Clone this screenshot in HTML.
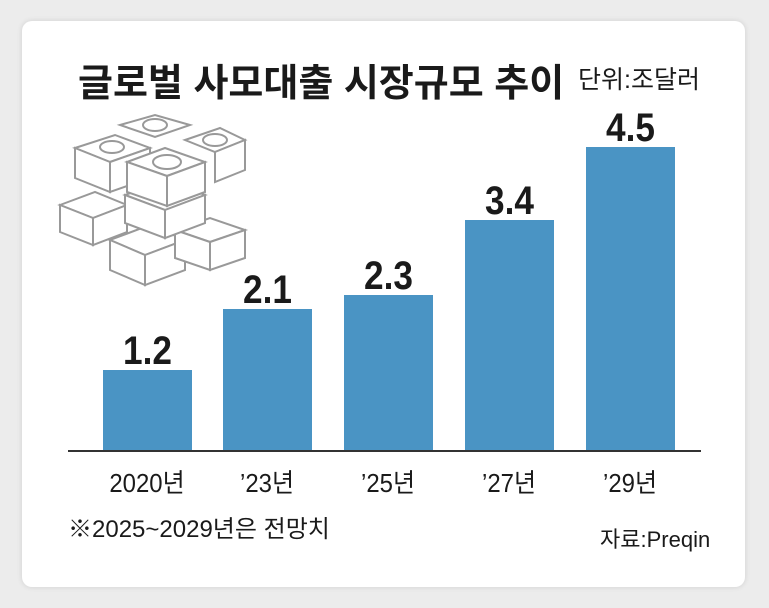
<!DOCTYPE html>
<html><head><meta charset="utf-8"><style>
body{margin:0;width:769px;height:608px;background:#ececec;position:relative;overflow:hidden;font-family:"Liberation Sans","Noto Sans CJK KR",sans-serif;}
.card{position:absolute;left:22px;top:21px;width:723px;height:566px;background:#fff;border-radius:10px;box-shadow:0 0 6px rgba(0,0,0,.12);}
.t{position:absolute;white-space:nowrap;color:#1a1a1a;}
.bar{position:absolute;background:#4a94c4;width:89px;}
.v{position:absolute;width:89px;text-align:center;font-size:40px;line-height:40px;font-weight:bold;color:#1a1a1a;transform:scaleX(.88);}
.x{position:absolute;width:120px;text-align:center;font-size:26px;color:#1a1a1a;transform:scaleX(.92);}
</style></head><body>
<div class="card"></div>
<div class="t" style="left:78px;top:52px;font-size:38px;font-weight:bold;">글로벌 사모대출 시장규모 추이</div>
<div class="t" style="left:578px;top:60px;font-size:25px;">단위:조달러</div>
<svg style="position:absolute;left:55px;top:110px" width="200" height="190" fill="#fff" stroke="#999" stroke-width="2">
<g><polygon points="5,95 40,82 72,95 38,108"/><polygon points="5,95 38,108 38,135 5,122"/><polygon points="38,108 72,95 72,122 38,135"/></g>
<g><polygon points="55,130 95,115 130,130 90,145"/><polygon points="55,130 90,145 90,175 55,160"/><polygon points="90,145 130,130 130,160 90,175"/></g>
<g><polygon points="120,120 155,108 190,120 155,132"/><polygon points="120,120 155,132 155,160 120,148"/><polygon points="155,132 190,120 190,148 155,160"/></g>
<g><polygon points="70,85 110,70 150,85 110,100"/><polygon points="70,85 110,100 110,128 70,113"/><polygon points="110,100 150,85 150,113 110,128"/></g>
<g><polygon points="20,38 60,25 95,38 55,52"/><polygon points="20,38 55,52 55,82 20,68"/><polygon points="55,52 95,38 95,68 55,82"/><ellipse cx="57" cy="37" rx="12" ry="6"/></g>
<g><polygon points="65,15 100,5 135,15 100,27"/><ellipse cx="100" cy="15" rx="12" ry="6"/></g>
<g><polygon points="130,30 165,18 190,30 160,42"/><polygon points="160,42 190,30 190,60 160,72"/><ellipse cx="160" cy="30" rx="12" ry="6"/></g>
<g><polygon points="72,52 110,38 150,52 112,66"/><polygon points="72,52 112,66 112,96 72,82"/><polygon points="112,66 150,52 150,82 112,96"/><ellipse cx="112" cy="52" rx="14" ry="7"/></g>
</svg>
<div style="position:absolute;left:68px;top:450px;width:633px;height:2px;background:#333"></div>
<div class="bar" style="left:103px;top:370px;height:80px"></div>
<div class="bar" style="left:223px;top:309px;height:141px"></div>
<div class="bar" style="left:344px;top:295px;height:155px"></div>
<div class="bar" style="left:465px;top:220px;height:230px"></div>
<div class="bar" style="left:586px;top:147px;height:303px"></div>
<div class="v" style="left:103px;top:331px">1.2</div>
<div class="v" style="left:223px;top:270px">2.1</div>
<div class="v" style="left:344px;top:256px">2.3</div>
<div class="v" style="left:465px;top:181px">3.4</div>
<div class="v" style="left:586px;top:108px">4.5</div>
<div class="x" style="left:87px;top:463px">2020년</div>
<div class="x" style="left:207px;top:463px">’23년</div>
<div class="x" style="left:328px;top:463px">’25년</div>
<div class="x" style="left:449px;top:463px">’27년</div>
<div class="x" style="left:570px;top:463px">’29년</div>
<div class="t" style="left:68px;top:509px;font-size:24px;">※2025~2029년은 전망치</div>
<div class="t" style="left:600px;top:522px;font-size:22px;">자료:Preqin</div>
</body></html>
